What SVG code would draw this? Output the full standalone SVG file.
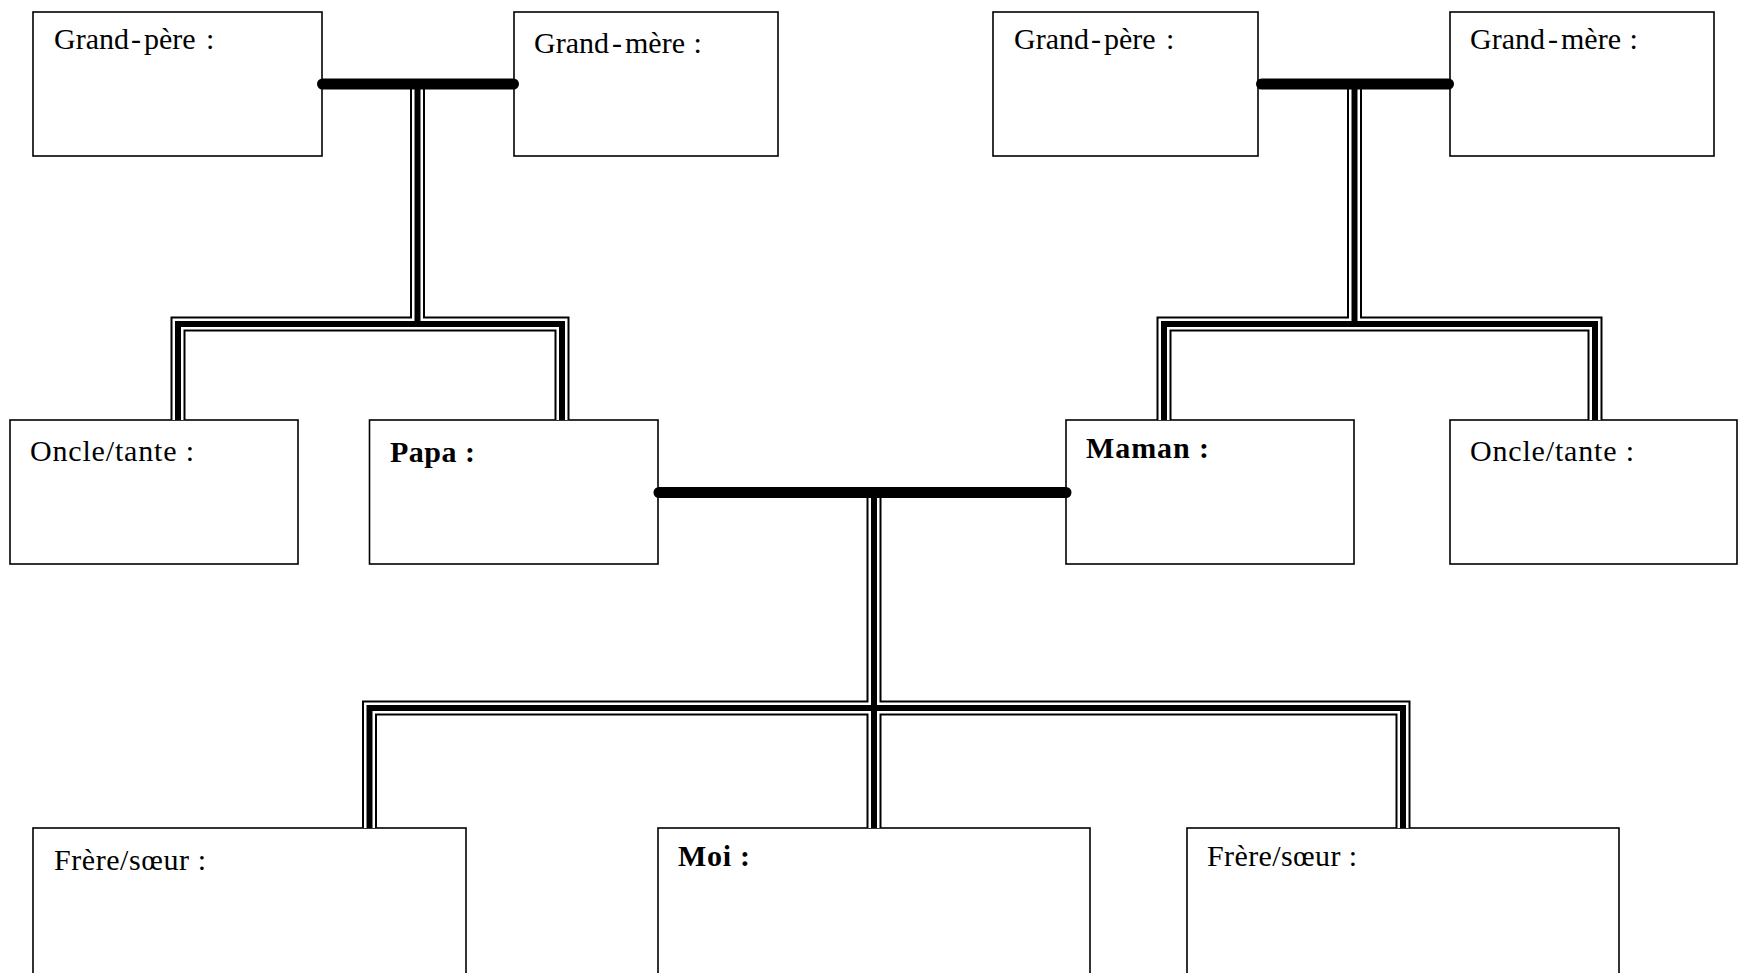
<svg xmlns="http://www.w3.org/2000/svg" width="1738" height="973" viewBox="0 0 1738 973">
<style>
.box{fill:#fff;stroke:#000;stroke-width:1.6}
.t{font-family:"Liberation Serif","Times New Roman",serif;font-size:30px;fill:#000}
.b{font-weight:bold}
.l1{fill:none;stroke:#000;stroke-width:15;stroke-linejoin:miter}
.l2{fill:none;stroke:#fff;stroke-width:11;stroke-linejoin:miter}
.l3{fill:none;stroke:#000;stroke-width:6;stroke-linejoin:miter}
.bar{stroke:#000;stroke-width:11;stroke-linecap:round}
</style>
<defs>
<path id="c1" d="M417.5,88 V324 M178,420 V324 H562 V420"/>
<path id="c2" d="M1354.5,88 V324 M1164,420 V324 H1595 V420"/>
<path id="c3" d="M874,497 V828 M369.5,828 V708 H1403 V828"/>
</defs>
<rect width="1738" height="973" fill="#fff"/>
<g id="gp1"><rect class="box" x="33" y="12" width="289" height="144"/><text class="t" x="54" y="49">Grand<tspan dx="2">-</tspan><tspan dx="3">père</tspan><tspan dx="3"> :</tspan></text></g>
<g id="gm1"><rect class="box" x="514" y="12" width="264" height="144"/><text class="t" x="534" y="53">Grand<tspan dx="3">-</tspan><tspan dx="3">mère</tspan><tspan dx="1"> :</tspan></text></g>
<g id="gp2"><rect class="box" x="993" y="12" width="265" height="144"/><text class="t" x="1014" y="49">Grand<tspan dx="2">-</tspan><tspan dx="3">père</tspan><tspan dx="3"> :</tspan></text></g>
<g id="gm2"><rect class="box" x="1450" y="12" width="264" height="144"/><text class="t" x="1470" y="49">Grand<tspan dx="3">-</tspan><tspan dx="3">mère</tspan><tspan dx="1"> :</tspan></text></g>
<g id="oncle1"><rect class="box" x="10" y="420" width="288" height="144"/><text class="t" x="30" y="461" textLength="164" lengthAdjust="spacing">Oncle/tante :</text></g>
<g id="papa"><rect class="box" x="369.5" y="420" width="288.5" height="144"/><text class="t b" x="390" y="462" textLength="85" lengthAdjust="spacing">Papa :</text></g>
<g id="maman"><rect class="box" x="1066" y="420" width="288" height="144"/><text class="t b" x="1086" y="458" textLength="123" lengthAdjust="spacing">Maman :</text></g>
<g id="oncle2"><rect class="box" x="1450" y="420" width="287" height="144"/><text class="t" x="1470" y="461" textLength="164" lengthAdjust="spacing">Oncle/tante :</text></g>
<g id="frere1"><rect class="box" x="33" y="828" width="433" height="150"/><text class="t" x="54" y="870" textLength="152" lengthAdjust="spacing">Frère/sœur :</text></g>
<g id="moi"><rect class="box" x="658" y="828" width="432" height="150"/><text class="t b" x="678" y="866" textLength="72" lengthAdjust="spacing">Moi :</text></g>
<g id="frere2"><rect class="box" x="1187" y="828" width="432" height="150"/><text class="t" x="1207" y="866" textLength="150" lengthAdjust="spacing">Frère/sœur :</text></g>
<g id="connectors">
<use href="#c1" class="l1"/><use href="#c2" class="l1"/><use href="#c3" class="l1"/>
<use href="#c1" class="l2"/><use href="#c2" class="l2"/><use href="#c3" class="l2"/>
<use href="#c1" class="l3"/><use href="#c2" class="l3"/><use href="#c3" class="l3"/>
<line class="bar" x1="322.5" y1="84" x2="513.5" y2="84"/>
<line class="bar" x1="1261.5" y1="84" x2="1448.5" y2="84"/>
<line class="bar" x1="659" y1="492.5" x2="1066" y2="492.5"/>
</g>
</svg>
